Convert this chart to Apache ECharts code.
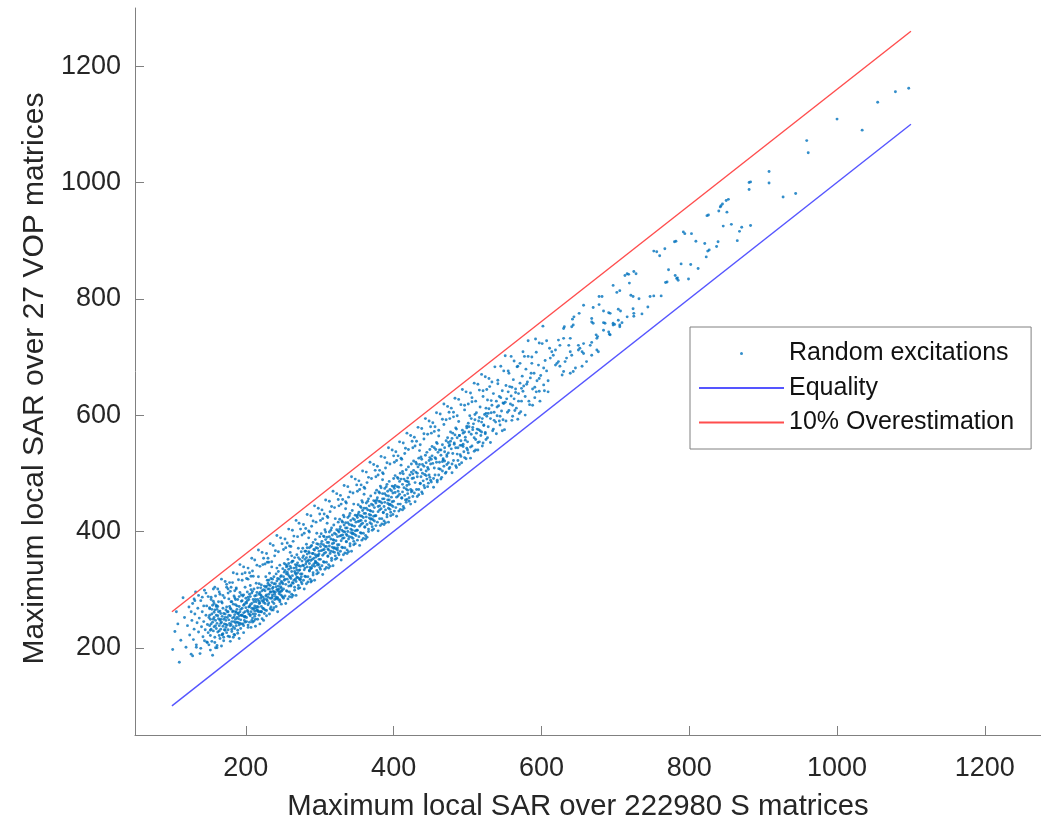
<!DOCTYPE html>
<html>
<head>
<meta charset="utf-8">
<script src="https://cdn.jsdelivr.net/npm/echarts@6/dist/echarts.min.js"></script>
<style>
  html, body { margin: 0; padding: 0; background: #fff; }
  #chart { width: 1041px; height: 826px; }
</style>
</head>
<body>
<div id="chart"></div>
<script>
// Tick positions on both axes
const xTicks = [200, 400, 600, 800, 1000, 1200];
const yTicks = [200, 400, 600, 800, 1000, 1200];

// Reference lines: y = x and the 10 % overestimation bound
const equalityLine = [[100, 100], [1100, 1100]];
const overestimationLine = [[100, 262], [1100, 1260]];

// Random excitations: [max SAR over S matrices, max SAR over VOP matrices]
const excitationsLow = [
  [101,197],[104,228],[106,262],[108,241],[110,175],[112,213],[115,286],[117,252],[119,201],[121,238],[123,270],[124,222],
  [126,189],[127,247],[128,276],[129,214],[130,232],[131,258],[132,296],[133,205],[134,243],[135,268],[136,227],[137,251],
  [138,190],[139,281],[140,236],[141,262],[142,219],[143,245],[144,299],[145,231],[146,256],[147,210],[147,272],[148,240],
  [149,226],[149,288],[150,252],[150,205],
  [151,238],[151,267],[152,221],[152,249],[153,283],[153,232],[154,258],[154,211],[155,244],[155,273],[156,229],[156,301],
  [157,252],[157,236],[158,218],[158,265],[159,247],[159,289],[160,233],[160,256],[161,204],[161,242],[162,271],[162,227],
  [163,250],[163,262],[164,238],[164,296],[165,216],[165,247],[166,259],[166,232],[167,279],[167,244],[168,223],[168,254],
  [169,268],[169,237],[170,249],[170,212],[171,286],[171,241],[172,258],[172,230],[173,265],[173,247],[174,226],[174,309],
  [175,252],[175,239],
  [176,262],[176,231],[177,284],[177,248],[178,219],[178,271],[179,255],[179,297],[180,240],[180,266],[181,228],[181,279],
  [182,251],[182,312],[183,236],[183,263],[184,289],[184,245],[185,257],[185,222],[186,274],[186,249],[187,238],[187,301],
  [188,266],[188,252],[189,230],[189,283],[190,259],[190,243],[191,271],[191,216],[192,295],[192,262],[193,248],[193,233],
  [194,280],[194,256],[195,268],[195,327],[196,241],[196,289],[197,260],[197,226],[198,275],[198,253],[199,304],[199,244],
  [200,269],[200,285],[179,238],[186,262],[191,255],[194,241],[197,291],[183,275],[188,244],[176,301],[199,262],[185,233],
  [201,277],[201,252],[202,296],[202,264],[203,239],[203,318],[204,283],[204,258],[205,271],[205,244],[206,307],[206,288],
  [207,262],[207,235],[208,294],[208,276],[209,251],[209,332],[210,283],[210,266],[211,246],[211,301],[212,272],[212,289],
  [213,258],[213,237],[214,311],[214,279],[215,264],[215,295],[216,249],[216,283],[217,270],[217,322],[218,256],[218,292],
  [219,277],[219,241],[220,303],[220,285],[221,262],[221,271],[222,298],[222,250],[223,287],[223,343],[224,267],[224,281],
  [225,306],[225,259],[203,287],[207,300],[210,258],[214,268],[218,310],[221,289],[224,247],[212,263],[206,274],[219,295],
  [226,298],[226,276],[227,322],[227,289],[228,264],[228,306],[229,281],[229,347],[230,301],[230,274],[231,316],[231,292],
  [232,258],[232,328],[233,285],[233,307],[234,270],[234,296],[235,339],[235,312],[236,279],[236,291],[237,304],[237,265],
  [238,322],[238,296],[239,283],[239,358],[240,310],[240,288],[241,271],[241,327],[242,300],[242,315],[243,286],[243,262],
  [244,331],[244,306],[245,293],[245,318],[246,279],[246,342],[247,305],[247,291],[248,324],[248,275],[249,312],[249,299],
  [250,336],[250,287],[228,283],[232,301],[236,318],[240,296],[244,283],[248,303],[230,311],[238,276],[242,337],[246,310]
];

const excitationsMid = [
  [251,322],[251,301],[252,345],[252,316],[253,289],[253,333],[254,309],[254,372],[255,327],[255,298],[256,341],[256,318],
  [257,284],[257,352],[258,313],[258,335],[259,296],[259,323],[260,364],[260,340],[261,306],[261,319],[262,331],[262,292],
  [263,349],[263,324],[264,311],[264,383],[265,337],[265,316],[266,299],[266,355],[267,328],[267,343],[268,314],[268,290],
  [269,360],[269,334],[270,321],[270,346],[271,307],[271,371],[272,333],[272,319],[273,352],[273,303],[274,340],[274,327],
  [275,365],[275,313],[256,330],[262,347],[268,326],[258,306],[272,341],
  [276,349],[276,327],[277,371],[277,342],[278,316],[278,358],[279,334],[279,397],[280,352],[280,323],[281,366],[281,344],
  [282,310],[282,378],[283,339],[283,361],[284,322],[284,349],[285,389],[285,365],[286,332],[286,345],[287,356],[287,318],
  [288,374],[288,350],[289,337],[289,409],[290,362],[290,341],[291,325],[291,381],[292,354],[292,369],[293,340],[293,316],
  [294,386],[294,360],[295,347],[295,372],[296,333],[296,397],[297,359],[297,345],[298,378],[298,329],[299,366],[299,352],
  [300,391],[300,338],[282,355],[288,336],[294,349],[286,372],[298,358],
  [301,374],[301,352],[302,396],[302,367],[303,341],[303,383],[304,359],[304,422],[305,377],[305,348],[306,391],[306,369],
  [307,335],[307,403],[308,364],[308,386],[309,347],[309,374],[310,414],[310,390],[311,357],[311,370],[312,381],[312,343],
  [313,399],[313,375],[314,362],[314,434],[315,387],[315,366],[316,350],[316,406],[317,379],[317,394],[318,365],[318,341],
  [319,411],[319,385],[320,372],[320,397],[321,358],[321,422],[322,384],[322,370],[323,403],[323,354],[324,391],[324,377],
  [325,416],[325,363],
  [326,399],[326,377],[327,421],[327,392],[328,366],[328,408],[329,384],[329,447],[330,402],[330,373],[331,416],[331,394],
  [332,360],[332,428],[333,389],[333,411],[334,372],[334,399],[335,439],[335,415],[336,382],[336,395],[337,406],[337,368],
  [338,424],[338,400],[339,387],[339,459],[340,412],[340,391],[341,375],[341,431],[342,404],[342,419],[343,390],[343,366],
  [344,436],[344,410],[345,397],[345,422],[346,383],[346,447],[347,409],[347,395],[348,428],[348,379],[349,416],[350,402],
  [351,424],[351,402],[352,446],[352,417],[353,391],[353,433],[354,409],[354,472],[355,427],[355,398],[356,441],[356,419],
  [357,385],[357,453],[358,414],[358,436],[359,397],[359,424],[360,464],[360,440],[361,407],[362,431],[362,393],[363,449],
  [363,425],[364,412],[364,484],[365,437],[366,400],[366,456],[367,429],[367,444],[368,415],[369,461],[369,435],[370,422],
  [370,447],[371,408],[372,434],[372,420],[373,453],[373,404],[374,441],[375,427],[375,466],
  [376,449],[376,427],[377,471],[378,416],[378,458],[379,434],[379,497],[380,452],[381,466],[381,444],[382,410],[382,478],
  [383,439],[384,422],[384,449],[385,489],[385,465],[386,432],[387,456],[387,418],[388,474],[388,450],[389,437],[389,509],
  [390,462],[391,425],[391,481],[392,454],[393,440],[393,416],[394,486],[395,447],[395,472],[396,433],[397,459],[397,445],
  [398,478],[399,466],[399,429],[400,491],[400,452],[392,469],
  [401,474],[402,496],[402,467],[403,441],[404,459],[404,522],[405,477],[406,491],[406,469],[407,435],[408,464],[408,486],
  [409,447],[410,514],[410,490],[411,457],[412,481],[413,443],[413,499],[414,475],[415,462],[415,534],[416,487],[417,450],
  [417,506],[418,479],[419,465],[420,511],[420,485],[421,458],[422,497],[423,472],[423,447],[424,516],[425,491],[425,470],
  [412,503],[418,455]
];

const excitationsHigh = [
  [426,499],[427,521],[427,492],[428,466],[429,484],[429,547],[430,502],[431,516],[432,494],[432,460],[433,511],[434,472],
  [435,539],[435,515],[436,482],[437,506],[438,468],[438,524],[439,500],[440,487],[441,559],[441,512],[442,475],[443,531],
  [444,504],[445,490],[445,536],[446,510],[447,483],[448,522],[448,497],[449,541],[450,516],[450,488],[437,528],
  [451,524],[452,546],[453,517],[454,491],[455,509],[455,572],[456,527],[457,541],[458,519],[459,485],[460,536],[461,497],
  [461,564],[462,540],[463,507],[464,531],[465,493],[466,549],[467,525],[468,512],[468,584],[469,537],[470,500],[471,556],
  [472,529],[472,515],[473,561],[474,535],[475,508],[475,547],[458,553],[466,520],
  [476,549],[477,571],[478,542],[479,516],[480,534],[481,597],[482,552],[483,566],[484,544],[485,510],[486,561],[487,522],
  [488,589],[489,565],[490,532],[491,556],[492,518],[493,574],[494,550],[495,537],[496,609],[497,562],[498,525],[499,581],
  [500,554],[500,540],[484,578],[490,548],[479,560],[496,571],
  [501,586],[502,571],[503,599],[504,545],[505,567],[506,623],[507,579],[509,561],[510,592],[511,540],[512,604],[513,576],
  [514,553],[516,596],[517,614],[518,565],[519,588],[520,547],[521,632],[522,583],[523,601],[524,570],[525,558],[525,612],
  [508,585],[515,575],
  [526,598],[527,626],[528,580],[529,611],[530,649],[531,594],[533,617],[534,573],[535,637],[536,605],[538,588],[539,624],
  [540,599],[541,660],[542,616],[544,583],[545,630],[546,607],[547,642],[548,592],[549,620],[550,575],[532,604],[543,632],
  [551,622],[552,651],[554,605],[555,640],[556,672],[558,619],[559,633],[561,598],[562,661],[563,628],[565,645],[566,612],
  [568,684],[569,637],[570,603],[571,655],[573,624],[574,667],[575,641],[560,648],
  [576,650],[578,632],[579,679],[581,657],[582,701],[584,618],[585,664],[587,689],[588,645],[590,672],[591,630],[593,708],
  [594,659],[596,686],[597,641],[599,668],[601,723],[603,652],[605,694],[607,676],[609,640],[611,715]
];

const excitationsTail = [
  [616,703],[612,698],[614,709],[619,712],[621,689],[623,692],[619,686],[625,684],[623,729],[625,720],[630,732],[631,752],
  [630,749],[641,752],[643,755],[639,732],[637,720],[650,720],[652,715],[655,709],[650,712],[657,706],[639,709],[641,703],
  [634,698],[632,692],[675,712],[677,709],[668,703],[661,692],[655,684],[646,681],[643,675],[639,672],[630,675],[628,669],
  [644,769],[642,765],[651,775],[657,789],[668,766],[670,758],[668,760],[684,759],[686,758],[697,758],[699,756],[697,755],
  [704,763],[709,759],[706,755],[706,752],[684,746],[691,743],[693,738],[692,739],[674,738],[676,735],[675,732],[666,720],
  [668,725],[657,723],[670,785],[678,790],[684,779],[691,776],[693,775],[704,782],[707,779],[724,783],[725,775],[725,770],
  [716,769],[736,774],[744,786],[678,804],[682,804],[697,823],[719,827],[706,814],[702,811],[721,806],[724,804],[732,800],
  [747,804],[752,805],[762,805],[713,840],[716,843],[718,842],[725,847],[728,843],[770,829],[768,828],[781,840],[783,835],
  [785,832],[784,836],[799,834],[772,850],[789,860],[802,859],[812,852],[752,882],[756,881],[760,874],[767,886],[780,898],
  [782,899],[809,899],[792,915],[794,912],[803,912],
  [823,872],[825,882],[827,884],[821,895],[839,898],[837,890],[865,900],[871,923],[868,916],[883,926],[846,925],[857,928],
  [840,951],[851,949],[842,958],[843,960],[845,963],[850,969],[853,971],[824,943],[826,944],[881,1000],[883,1001],[881,988],
  [927,975],[944,981],[908,1019],[908,999],[959,1072],[961,1051],[1000,1109],[1034,1090],[1055,1138],[1079,1156],[1097,1162]
];

// Further excitations spread across the full width of the band (S < 300)
const excitationsBandA = [
  [128,186],[133,201],[139,199],[144,212],[148,209],[126,262],[131,281],[136,290],[141,287],[146,294],[130,284],[143,272],
  [152,196],[155,187],[158,209],[161,200],[164,221],[167,203],[170,218],[173,235],[159,200],[168,222],
  [151,269],[153,287],[156,280],[158,304],[160,273],[162,301],[165,292],[167,318],[169,290],[172,314],[174,304],[163,279],
  [151,256],[153,241],[154,266],[156,249],[157,261],[159,238],[160,271],[162,255],[164,229],[165,263],[166,242],[168,277],
  [170,259],[171,231],[173,240],[174,270],[152,230],[157,276],[161,266],[166,249],[169,224],[172,252],[175,262],
  [176,220],[179,211],[181,232],[184,223],[186,243],[189,225],[191,239],[194,256],[197,238],[199,253],[183,218],
  [176,294],[178,312],[180,304],[183,329],[185,298],[188,327],[190,317],[192,343],[195,316],[197,339],[199,329],[187,303],
  [177,256],[178,242],[180,279],[182,262],[184,253],[185,286],[187,261],[188,272],[190,250],[191,288],[193,266],[194,291],
  [196,255],[197,273],[198,247],[200,278],[179,268],[181,245],[186,283],[189,259],[192,242],[195,281],[199,254],
  [201,245],[203,235],[206,257],[208,247],[211,268],[213,249],[216,264],[218,280],[221,262],[224,278],[209,244],
  [201,319],[203,337],[205,329],[208,354],[210,323],[212,351],[215,342],[217,368],[219,340],[222,364],[224,354],[207,323],
  [202,281],[203,262],[205,292],[206,255],[208,268],[209,297],[211,279],[212,254],[214,290],[215,271],[216,303],[218,276],
  [219,262],[220,291],[222,281],[223,268],[224,300],[225,284],[204,270],[213,283],[217,262],[221,308],
  [226,265],[228,255],[231,277],[233,267],[236,288],[238,269],[241,284],[243,300],[246,282],[248,297],[235,265],
  [226,344],[228,362],[230,354],[233,379],[235,348],[237,376],[240,367],[242,393],[244,365],[247,389],[249,379],[231,347],
  [227,304],[228,291],[230,287],[231,308],[233,296],[234,319],[235,285],[237,297],[238,310],[239,292],[241,305],[242,286],
  [243,319],[245,301],[246,296],[247,322],[249,289],[250,310],[229,316],[236,302],[244,297],[248,314],
  [251,285],[254,276],[256,297],[259,288],[261,308],[264,290],[266,304],[269,321],[271,302],[274,318],[262,287],
  [251,369],[253,387],[256,380],[258,404],[261,374],[263,402],[265,392],[268,419],[270,391],[272,414],[274,404],[259,375],
  [252,330],[253,318],[255,339],[257,326],[258,345],[260,321],[261,337],[263,312],[264,349],[266,331],[267,318],[269,342],
  [270,329],[271,355],[273,334],[275,322],[254,343],[262,358],[268,338],[273,317],
  [276,310],[279,301],[281,322],[284,313],[286,333],[289,315],[291,329],[294,346],[296,327],[299,343],[288,313],
  [276,394],[278,412],[281,405],[283,429],[286,399],[288,427],[291,418],[293,444],[295,416],[298,440],[300,430],[285,401],
  [277,355],[278,341],[280,366],[282,348],[283,372],[285,351],[286,363],[287,338],[289,376],[290,352],[292,344],[293,368],
  [295,356],[296,379],[297,342],[299,361],[280,337],[291,362],[297,371]
];

// Further excitations spread across the full width of the band (S >= 300)
const excitationsBandB = [
  [301,335],[304,326],[306,347],[309,338],[311,358],[314,340],[316,354],[319,371],[321,352],[324,368],[312,337],
  [301,419],[303,437],[306,430],[308,454],[311,424],[313,452],[316,443],[318,469],[320,441],[323,465],[325,455],[310,426],
  [302,379],[304,368],[305,392],[307,374],[308,399],[310,381],[312,368],[313,391],[315,402],[317,373],[318,386],[320,364],
  [322,395],[324,372],[325,401],[306,362],[319,380],
  [326,360],[329,351],[331,372],[334,363],[336,383],[339,365],[341,379],[344,396],[346,377],[349,393],[337,362],
  [326,444],[328,462],[331,455],[333,479],[336,449],[338,477],[341,468],[343,494],[345,466],[348,490],[350,480],[335,451],
  [327,404],[329,393],[330,418],[332,400],[333,425],[335,406],[337,393],[338,415],[340,427],[342,398],[343,411],[345,388],
  [347,420],[348,401],[350,427],[331,388],[344,402],
  [351,385],[354,376],[356,397],[359,388],[361,408],[364,390],[366,404],[369,421],[371,402],[374,418],[362,387],
  [351,469],[353,487],[356,480],[358,504],[361,474],[363,502],[366,493],[368,519],[370,491],[373,515],[375,505],[360,476],
  [352,429],[354,418],[355,443],[357,426],[358,450],[360,431],[362,418],[363,440],[365,452],[367,423],[368,436],[370,413],
  [372,445],[373,426],[375,452],[356,412],[369,428],
  [376,410],[379,401],[381,422],[384,413],[386,433],[389,415],[391,429],[394,446],[396,427],[399,443],[387,412],
  [376,494],[378,512],[381,505],[383,529],[386,499],[388,527],[391,518],[393,544],[395,516],[398,540],[400,530],[385,501],
  [377,454],[379,443],[380,468],[382,451],[383,475],[385,456],[387,443],[388,465],[390,477],[392,448],[393,461],[395,438],
  [397,470],[398,451],[400,477],[381,437],[394,454],
  [401,435],[404,426],[406,447],[409,438],[411,458],[414,440],[416,454],[419,471],[421,452],[424,468],[412,437],
  [401,519],[403,537],[406,530],[408,554],[411,524],[413,552],[416,543],[418,569],[420,541],[423,565],[425,555],[410,526],
  [402,479],[405,493],[407,476],[409,500],[412,468],[414,490],[417,473],[419,492],[421,481],[424,502],[406,461],[418,486],
  [426,460],[429,451],[431,472],[434,463],[436,483],[439,465],[441,479],[444,496],[446,477],[449,493],
  [426,544],[428,562],[431,555],[433,579],[436,549],[438,577],[441,568],[443,594],[446,567],[448,590],[450,580],
  [427,505],[430,519],[432,500],[434,526],[437,494],[439,515],[442,498],[444,518],[447,507],[449,527],
  [451,485],[454,476],[456,497],[459,488],[461,508],[464,490],[466,504],[469,521],[471,502],[474,518],
  [451,569],[453,587],[456,580],[458,604],[461,574],[463,602],[466,593],[468,619],[471,592],[473,615],[475,605],
  [452,530],[455,544],[457,525],[459,551],[462,519],[464,540],[467,523],[469,544],[472,532],[474,553],
  [476,510],[479,501],[481,522],[484,513],[486,533],[489,515],[491,529],[494,546],[496,527],[499,543],
  [476,594],[478,612],[481,605],[483,629],[486,599],[488,627],[491,618],[493,644],[496,617],[498,640],
  [477,555],[480,569],[482,550],[485,576],[487,544],[489,565],[492,548],[494,569],[497,557],[499,578],
  [501,535],[504,526],[506,547],[509,538],[511,558],[514,540],[516,554],[519,571],[521,552],[524,568],
  [501,619],[504,638],[506,630],[509,655],[511,624],[514,653],[516,643],[519,670],[521,642],[524,666],
  [502,580],[505,594],[507,575],[510,601],[512,569],[515,590],[517,573],[520,594],[522,582],[525,603],
  [527,561],[531,553],[535,576],[539,568],[543,590],[547,573],[526,644],[529,663],[533,657],[537,683],[541,654],[545,684],
  [549,676],[528,603],[532,625],[536,591],[540,614],[544,598],[548,621],
  [552,590],[556,608],[560,591],[564,608],[568,593],[572,606],[551,702],[555,676],[559,701],[563,693],[567,683],[571,689],
  [575,709],[553,628],[557,649],[561,617],[565,639],[569,624],[573,646],
  [578,600],[583,624],[588,617],[593,640],[598,624],[604,642],[577,701],[582,728],[587,700],[592,731],[597,724],[602,753],
  [607,728],[580,653],[586,672],[591,648],[597,663],[603,681],[609,659]
];

const excitations = excitationsLow.concat(
  excitationsMid, excitationsHigh, excitationsTail, excitationsBandA, excitationsBandB
);

const FONT = "'Liberation Sans', Arial, Helvetica, sans-serif";
const AXIS_GREY = '#808080';
const TEXT_DARK = '#262626';

const chart = echarts.init(document.getElementById('chart'), null, { renderer: 'canvas' });

function valueAxis(ticks, max, name, nameGap, nameSize, namePadding, labelMargin) {
  return {
    type: 'value',
    min: 50,
    max: max,
    name: name,
    nameLocation: 'middle',
    nameGap: nameGap,
    nameTextStyle: { fontFamily: FONT, fontSize: nameSize, color: TEXT_DARK, padding: namePadding },
    axisLine: { show: true, lineStyle: { color: AXIS_GREY, width: 1 } },
    axisTick: { show: true, inside: true, length: 9, customValues: ticks, lineStyle: { color: AXIS_GREY, width: 1 } },
    axisLabel: {
      customValues: ticks,
      formatter: (v) => String(v),
      fontFamily: FONT,
      fontSize: 27,
      color: TEXT_DARK,
      margin: labelMargin
    },
    splitLine: { show: false }
  };
}

chart.setOption({
  animation: false,
  backgroundColor: '#ffffff',
  grid: { left: 135, top: 8, bottom: 87, right: 0, containLabel: false },
  xAxis: valueAxis(xTicks, 1276, 'Maximum local SAR over 222980 S matrices', 57, 29.3, [0, 20, 0, 0], 20),
  yAxis: valueAxis(yTicks, 1300, 'Maximum local SAR over 27 VOP matrices', 80, 30, [0, 14, 0, 0], 14),
  legend: {
    orient: 'vertical',
    left: 690,
    top: 327,
    padding: [14, 17, 14, 8],
    itemGap: 9.5,
    itemWidth: 85,
    itemHeight: 3,
    borderColor: AXIS_GREY,
    borderWidth: 1,
    backgroundColor: '#ffffff',
    textStyle: { fontFamily: FONT, fontSize: 25, color: '#111111', lineHeight: 24 },
    data: [
      { name: 'Random excitations', icon: 'circle' },
      { name: 'Equality', itemStyle: { opacity: 0 } },
      { name: '10% Overestimation', itemStyle: { opacity: 0 } }
    ]
  },
  series: [
    {
      name: 'Random excitations',
      type: 'scatter',
      data: excitations,
      symbol: 'circle',
      symbolSize: 2.9,
      itemStyle: { color: '#0072bd' },
      z: 2
    },
    {
      name: 'Equality',
      type: 'line',
      data: equalityLine,
      symbol: 'none',
      lineStyle: { color: '#5555ff', width: 1.4 },
      itemStyle: { color: '#5555ff' },
      z: 3
    },
    {
      name: '10% Overestimation',
      type: 'line',
      data: overestimationLine,
      symbol: 'none',
      lineStyle: { color: '#ff4d4d', width: 1.4 },
      itemStyle: { color: '#ff4d4d' },
      z: 3
    }
  ]
});
</script>
</body>
</html>
